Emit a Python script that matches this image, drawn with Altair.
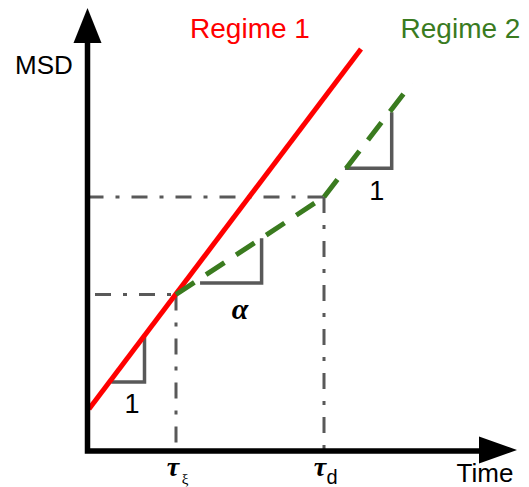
import altair as alt
import pandas as pd

W, H = 529, 487
X_DOMAIN = [-8.75, 44.15]
Y_DOMAIN = [-3.6, 45.1]

RED = "#ff0000"
GREEN = "#3a7b1f"
GRAY = "#595959"

# Regime 1: single straight line (slope 1 on the schematic)
regime1_t = [0.15, 27.35]
regime1_msd = [4.2, 40.2]

# Crossover times and the MSD values reached there
tau_xi, msd_xi = 8.85, 15.65
tau_d, msd_d = 23.65, 25.4

# Regime 2: sub-diffusive stretch (slope alpha) then back to slope 1
regime2_t = [tau_xi, tau_d, tau_d, 32.45]
regime2_msd = [msd_xi, msd_d, msd_d, 36.8]
regime2_seg = [0, 0, 1, 1]

# Dash-dot guides from the crossover points to the axes
guide_t = [[0.75, tau_xi], [tau_xi, tau_xi], [0.0, tau_d], [tau_d, tau_d]]
guide_msd = [[msd_xi, msd_xi], [msd_xi, 0.0], [msd_d, msd_d], [msd_d, 0.0]]

# Slope triangles and their labels
tri_t = [[2.55, 5.7, 5.7], [11.43, 17.41, 17.41], [25.92, 30.42, 30.42]]
tri_msd = [[6.9, 6.9, 11.4], [16.8, 16.8, 21.1], [28.27, 28.27, 33.7]]
one_label_t = [4.45, 28.92]
one_label_msd = [4.6, 25.93]
alpha_t, alpha_msd = 15.25, 14.1

# Axis polyline (y axis down to origin, then along x) and arrow heads
axis_t = [0.0, 0.0, 39.15]
axis_msd = [40.8, 0.0, 0.0]
arrow_up = (0.0, 42.55)
arrow_right = (41.05, 0.1)


def rows(ts, ms, seg_ids=None):
    out = []
    for k, (tt, mm) in enumerate(zip(ts, ms)):
        for i, (a, b) in enumerate(zip(tt, mm)):
            out.append({"t": a, "msd": b, "seg": k if seg_ids is None else seg_ids[k], "i": i})
    return pd.DataFrame(out)


xs = alt.Scale(domain=X_DOMAIN, nice=False, zero=False)
ys = alt.Scale(domain=Y_DOMAIN, nice=False, zero=False)


def enc(chart, with_order=True):
    kw = dict(
        x=alt.X("t:Q", scale=xs, axis=None),
        y=alt.Y("msd:Q", scale=ys, axis=None),
    )
    if with_order:
        kw["order"] = alt.Order("i:Q")
        kw["detail"] = alt.Detail("seg:N")
    return chart.encode(**kw)


guides_df = rows(guide_t, guide_msd)
guides = enc(alt.Chart(guides_df).mark_line(
    color=GRAY, strokeWidth=3, strokeDash=[16, 12, 4, 12], strokeCap="butt"))

tri_df = rows(tri_t, tri_msd)
triangles = enc(alt.Chart(tri_df).mark_line(
    color=GRAY, strokeWidth=3.5, strokeJoin="miter", strokeCap="square"))

r1_df = rows([regime1_t], [regime1_msd])
regime1 = enc(alt.Chart(r1_df).mark_line(color=RED, strokeWidth=5))

r2_df = pd.DataFrame({"t": regime2_t, "msd": regime2_msd, "seg": regime2_seg,
                      "i": list(range(len(regime2_t)))})
regime2 = enc(alt.Chart(r2_df).mark_line(
    color=GREEN, strokeWidth=5, strokeDash=[22, 14], strokeCap="butt"))

axis_df = rows([axis_t], [axis_msd])
axes = enc(alt.Chart(axis_df).mark_line(
    color="black", strokeWidth=5.5, strokeJoin="miter", strokeCap="square"))

up_df = pd.DataFrame({"t": [arrow_up[0]], "msd": [arrow_up[1]]})
head_up = enc(alt.Chart(up_df).mark_point(
    shape="M-0.8,1L0,-1L0.8,1Z", size=1225, filled=True, color="black",
    opacity=1, strokeWidth=0), with_order=False)

right_df = pd.DataFrame({"t": [arrow_right[0]], "msd": [arrow_right[1]]})
head_right = enc(alt.Chart(right_df).mark_point(
    shape="M-1,-0.71L1,0L-1,0.71Z", size=1444, filled=True, color="black",
    opacity=1, strokeWidth=0), with_order=False)


def label(df, **style):
    return alt.Chart(df).mark_text(**style).encode(
        x=alt.X("t:Q", scale=xs, axis=None),
        y=alt.Y("msd:Q", scale=ys, axis=None),
        text="txt:N",
    )


sans = "Arial, Liberation Sans, sans-serif"
serif = "Times New Roman, Liberation Serif, serif"

ones = label(pd.DataFrame({"t": one_label_t, "msd": one_label_msd, "txt": ["1", "1"]}),
             font=sans, fontSize=27, color="black", baseline="middle", align="center")
alpha = label(pd.DataFrame({"t": [alpha_t], "msd": [alpha_msd], "txt": ["α"]}),
              font=serif, fontSize=30, fontStyle="italic", fontWeight="bold",
              color="black", baseline="middle", align="center")
reg1_txt = label(pd.DataFrame({"t": [16.25], "msd": [42.1], "txt": ["Regime 1"]}),
                 font=sans, fontSize=28, color=RED, baseline="middle", align="center")
reg2_txt = label(pd.DataFrame({"t": [37.3], "msd": [42.1], "txt": ["Regime 2"]}),
                 font=sans, fontSize=28, color=GREEN, baseline="middle", align="center")
msd_txt = label(pd.DataFrame({"t": [-4.35], "msd": [38.55], "txt": ["MSD"]}),
                font=sans, fontSize=26, color="black", baseline="middle", align="center")
time_txt = label(pd.DataFrame({"t": [39.75], "msd": [-3.1], "txt": ["Time"]}),
                 font=sans, fontSize=26, color="black", baseline="alphabetic", align="center")
taus = label(pd.DataFrame({"t": [8.55, 23.25], "msd": [-1.65, -1.65], "txt": ["τ", "τ"]}),
             font=serif, fontSize=28, fontStyle="italic", fontWeight="bold",
             color="black", baseline="middle", align="center")
sub_xi = label(pd.DataFrame({"t": [9.75], "msd": [-2.75], "txt": ["ξ"]}),
               font=serif, fontSize=15, color="black", baseline="middle", align="center")
sub_d = label(pd.DataFrame({"t": [24.45], "msd": [-2.65], "txt": ["d"]}),
              font=sans, fontSize=20, color="black", baseline="middle", align="center")

chart = alt.layer(
    guides, triangles, regime1, regime2, axes, head_up, head_right,
    ones, alpha, reg1_txt, reg2_txt, msd_txt, time_txt, taus, sub_xi, sub_d,
).properties(
    width=W, height=H,
    autosize=alt.AutoSizeParams(type="none"),
    padding=0,
    background="white",
).configure_view(stroke=None)

chart.save("out.html", embed_options={"renderer": "svg", "actions": False})
